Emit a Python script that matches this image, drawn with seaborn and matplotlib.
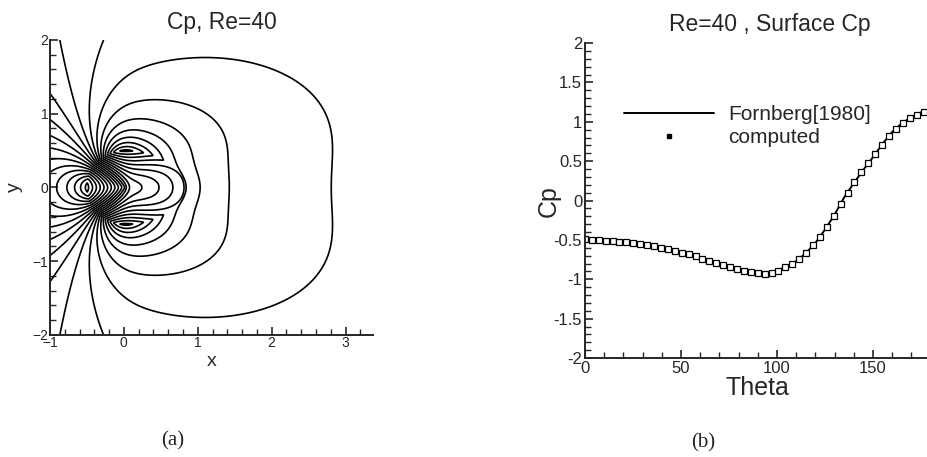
import numpy as np
import seaborn as sns
import matplotlib.pyplot as plt
from matplotlib.lines import Line2D
from matplotlib.ticker import MultipleLocator

# surface Cp, Fornberg (1980) reference curve
theta_ref = [0, 5, 10, 15, 20, 25, 30, 35, 40, 45, 50, 55, 60, 65, 70, 75, 80, 85, 90,
             95, 100, 105, 110, 115, 120, 125, 130, 135, 140, 145, 150, 155, 160, 165,
             170, 175, 180]
cp_ref = [-0.50, -0.50, -0.50, -0.51, -0.52, -0.53, -0.55, -0.57, -0.59, -0.62, -0.65,
          -0.68, -0.72, -0.76, -0.80, -0.84, -0.87, -0.90, -0.92, -0.92, -0.89, -0.84,
          -0.77, -0.67, -0.54, -0.37, -0.18, 0.04, 0.22, 0.39, 0.55, 0.72, 0.87, 0.98,
          1.06, 1.12, 1.16]

# computed surface Cp
theta_cmp = [0.0, 3.6, 7.2, 10.8, 14.4, 18.0, 21.6, 25.2, 28.8, 32.4, 36.0, 39.6, 43.2,
             46.8, 50.4, 54.0, 57.6, 61.2, 64.8, 68.4, 72.0, 75.6, 79.2, 82.8, 86.4, 90.0,
             93.6, 97.2, 100.8, 104.4, 108.0, 111.6, 115.2, 118.8, 122.4, 126.0, 129.6,
             133.2, 136.8, 140.4, 144.0, 147.6, 151.2, 154.8, 158.4, 162.0, 165.6, 169.2,
             172.8, 176.4, 180.0]
cp_cmp = [-0.49, -0.50, -0.50, -0.51, -0.51, -0.52, -0.53, -0.54, -0.55, -0.57, -0.58,
          -0.60, -0.62, -0.64, -0.66, -0.68, -0.71, -0.74, -0.77, -0.79, -0.82, -0.85,
          -0.87, -0.89, -0.91, -0.92, -0.93, -0.92, -0.89, -0.85, -0.80, -0.74, -0.66,
          -0.57, -0.46, -0.34, -0.20, -0.04, 0.10, 0.23, 0.36, 0.48, 0.59, 0.71, 0.82,
          0.91, 0.99, 1.05, 1.09, 1.13, 1.16]

# Cp field around the cylinder (radius 0.5), built from surface Cp modes
radius = 0.5
cp_modes = [-0.308, -0.607, 0.6225, -0.218]   # cos(n*phi) coefficients, n = 0..3
decay_pow = [2, 0.6, 1.2, 2]                   # radial decay of each mode
wake_start, wake_stretch = 0.1, 0.45           # wake elongation downstream
cp_levels = [-0.9, -0.8, -0.7, -0.6, -0.5, -0.4, -0.3, -0.2, -0.1, 0.0,
             0.1, 0.2, 0.3, 0.4, 0.5, 0.6, 0.7, 0.8, 0.9, 1.0, 1.1]

xg, yg = np.meshgrid(np.linspace(-1, 3.4, 560), np.linspace(-2, 2, 520))
xe = xg - wake_stretch * 0.15 * np.logaddexp(0, (xg - wake_start) / 0.15)
rg = np.maximum(np.hypot(xe, yg), 1e-3)
phi = np.arctan2(yg, xe)
ratio = np.where(rg >= radius, radius / rg, rg / radius)
cp_field = sum(a * np.cos(n * phi) * ratio ** p
               for n, (a, p) in enumerate(zip(cp_modes, decay_pow)))

sns.set_style('ticks')
plt.rcParams['font.family'] = ['Liberation Sans', 'DejaVu Sans']
plt.rcParams['xtick.direction'] = 'in'
plt.rcParams['ytick.direction'] = 'in'

fig = plt.figure(figsize=(9.27, 4.57), dpi=100)
ax1 = fig.add_axes([0.0539, 0.267, 0.3484, 0.6455])
ax2 = fig.add_axes([0.631, 0.2166, 0.3728, 0.689])

# (a) contour plot
ax1.contour(xg, yg, cp_field, levels=cp_levels, colors='black', linewidths=1.2,
            linestyles='solid')
ax1.set_xlim(-1, 3.37)
ax1.set_ylim(-2, 2)
ax1.xaxis.set_major_locator(MultipleLocator(1))
ax1.xaxis.set_minor_locator(MultipleLocator(0.2))
ax1.yaxis.set_major_locator(MultipleLocator(1))
ax1.yaxis.set_minor_locator(MultipleLocator(0.2))
ax1.tick_params(which='major', length=6, width=1.2, labelsize=10, pad=1)
ax1.tick_params(which='minor', length=4, width=1.0)
ax1.set_xlabel('x', fontsize=14, va='top')
ax1.set_ylabel('y', fontsize=14)
ax1.xaxis.set_label_coords(0.5, -0.06)
ax1.yaxis.set_label_coords(-0.083, 0.5)

# (b) surface Cp
sns.lineplot(x=theta_ref, y=cp_ref, ax=ax2, color='black', linewidth=1.4)
ax2.plot(theta_cmp, cp_cmp, linestyle='none', marker='s', markersize=4,
         markerfacecolor='white', markeredgecolor='black', markeredgewidth=0.9)
ax2.set_xlim(0, 180)
ax2.set_ylim(-2, 2)
ax2.xaxis.set_major_locator(MultipleLocator(50))
ax2.xaxis.set_minor_locator(MultipleLocator(10))
ax2.yaxis.set_major_locator(MultipleLocator(0.5))
ax2.yaxis.set_minor_locator(MultipleLocator(0.1))
ax2.yaxis.set_major_formatter(lambda v, pos: f'{v:g}')
ax2.tick_params(which='major', length=6, width=1.2, labelsize=12, pad=2)
ax2.tick_params(which='minor', length=4, width=1.0)
ax2.set_xlabel('Theta', fontsize=18, labelpad=0)
ax2.set_ylabel('Cp', fontsize=18)
ax2.yaxis.set_label_coords(-0.069, 0.5)

handles = [Line2D([], [], color='black', linewidth=1.4),
           Line2D([], [], linestyle='none', marker='s', markersize=3.5, color='black')]
ax2.legend(handles, ['Fornberg[1980]', 'computed'], loc='upper left',
           bbox_to_anchor=(0.09, 0.83), frameon=False, fontsize=15,
           handlelength=4.3, handletextpad=0.7, labelspacing=0.2, borderaxespad=0)

for ax in (ax1, ax2):
    sns.despine(ax=ax)
    for s in ('left', 'bottom'):
        ax.spines[s].set_linewidth(1.4)

fig.text(222 / 927, 1 - 23 / 457, 'Cp, Re=40', fontsize=16.5, ha='center', va='center')
fig.text(770 / 927, 1 - 24 / 457, 'Re=40 , Surface Cp', fontsize=16.5,
         ha='center', va='center')
fig.text(173 / 927, 1 - 441 / 457, '(a)', fontsize=15, ha='center', va='center',
         family='Liberation Serif')
fig.text(703 / 927, 1 - 443 / 457, '(b)', fontsize=15, ha='center', va='center',
         family='Liberation Serif')

fig.savefig('out.png', dpi=100)
